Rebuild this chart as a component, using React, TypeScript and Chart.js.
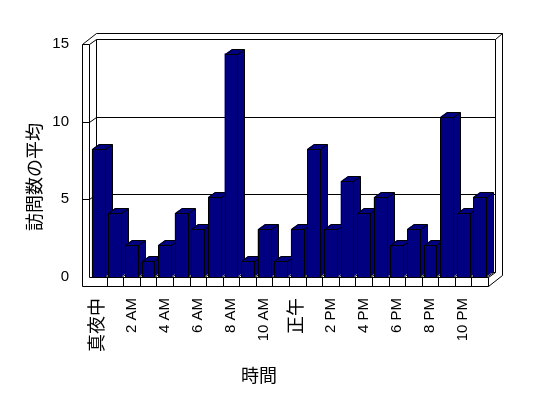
import React, { useEffect, useRef } from "react";
import { Chart, registerables } from "chart.js";

Chart.register(...registerables);

// ---- data ----
const hourLabels = [
  "真夜中", "1 AM", "2 AM", "3 AM", "4 AM", "5 AM", "6 AM", "7 AM", "8 AM", "9 AM", "10 AM", "11 AM",
  "正午", "1 PM", "2 PM", "3 PM", "4 PM", "5 PM", "6 PM", "7 PM", "8 PM", "9 PM", "10 PM", "11 PM",
];
const avgVisits = [8, 4, 2, 1, 2, 4, 3, 5, 14, 1, 3, 1, 3, 8, 3, 6, 4, 5, 2, 3, 2, 10, 4, 5];
const yTickValues = [0, 5, 10, 15];
const xTitle = "時間";
const yTitle = "訪問数の平均";

// ---- style / layout ----
const NAVY = "#000080";
const LATIN = "'Liberation Sans', 'Noto Sans CJK JP', sans-serif";
const CJK = "'Noto Sans CJK JP', sans-serif";
const Y_MAX = 15;
const BAR_AXIS_MAX = 14.6; // front (perspective) scale of the bars
const DX = 7, DY = -5; // depth of plot
const WX = 6.5, WY = -6; // back wall thickness
const SIDE_WALL = 7;
const FLOOR_H = 9;

const px = (v: number) => Math.round(v) + 0.5;

function line(ctx: CanvasRenderingContext2D, pts: number[][]) {
  ctx.beginPath();
  pts.forEach((p, i) => (i ? ctx.lineTo(px(p[0]), px(p[1])) : ctx.moveTo(px(p[0]), px(p[1]))));
  ctx.stroke();
}

function barRect(el: any) {
  const p = el.getProps(["x", "y", "base", "width"], true);
  return {
    l: Math.round(p.x - p.width / 2),
    r: Math.round(p.x + p.width / 2),
    t: Math.round(p.y),
    b: Math.round(p.base),
  };
}

const box3d = {
  id: "box3d",
  beforeDatasetsDraw(chart: any) {
    const { ctx, chartArea: a, scales } = chart;
    const y = scales.y;
    const L1 = a.left - 1, L0 = L1 - SIDE_WALL, T = a.top, B0 = a.bottom, B1 = B0 + FLOOR_H, R = a.right;
    const DXX = DX + WX, DYY = DY + WY;
    ctx.save();
    ctx.strokeStyle = "#000";
    ctx.lineWidth = 1;
    // back wall inner face
    line(ctx, [[L1 + DX, T + DY], [R + DX, T + DY], [R + DX, B0 + DY], [L1 + DX, B0 + DY], [L1 + DX, T + DY]]);
    // gridlines on the back wall + left wall
    yTickValues.forEach((v) => {
      if (v === 0 || v === Y_MAX) return;
      const yy = y.getPixelForValue(v);
      line(ctx, [[L1 + DX, yy + DY], [R + DX, yy + DY]]);
      line(ctx, [[L0, yy], [L1, yy], [L1 + DX, yy + DY]]);
    });
    // outer top and right edges
    line(ctx, [[L0, T], [L0 + DXX, T + DYY], [R + DXX, T + DYY], [R + DXX, B1 + DYY]]);
    line(ctx, [[R + DX, T + DY], [R + DXX, T + DYY]]);
    line(ctx, [[L1, T], [L1 + DX, T + DY]]);
    // front face of left wall + floor
    line(ctx, [[L0, T], [L1, T], [L1, B0], [R, B0], [R, B1], [L0, B1], [L0, T]]);
    // floor dividers
    const n = hourLabels.length;
    const cw = (a.right - a.left) / n;
    for (let i = 1; i < n; i++) {
      const x = a.left + i * cw;
      line(ctx, [[x, B0], [x, B1]]);
    }
    line(ctx, [[R, B0], [R + DX, B0 + DY]]);
    line(ctx, [[R, B1], [R + DXX, B1 + DYY]]);
    // bar extrusions (top and side faces)
    const meta = chart.getDatasetMeta(0);
    ctx.fillStyle = NAVY;
    meta.data.forEach((el: any) => {
      const { l, r, t, b } = barRect(el);
      ctx.beginPath();
      ctx.moveTo(l, t);
      ctx.lineTo(l + DX, t + DY);
      ctx.lineTo(r + DX, t + DY);
      ctx.lineTo(r + DX, b + DY);
      ctx.lineTo(r, b);
      ctx.lineTo(r, t);
      ctx.closePath();
      ctx.fill();
      line(ctx, [[l, t], [l + DX, t + DY], [r + DX, t + DY], [r + DX, b + DY], [r, b]]);
      line(ctx, [[r, t], [r + DX, t + DY]]);
    });
    ctx.restore();
  },
  afterDatasetsDraw(chart: any) {
    const { ctx } = chart;
    ctx.save();
    ctx.strokeStyle = "#000";
    ctx.lineWidth = 1;
    chart.getDatasetMeta(0).data.forEach((el: any) => {
      const { l, r, t, b } = barRect(el);
      ctx.fillStyle = NAVY;
      ctx.fillRect(l, t, r - l, b - t);
      ctx.strokeRect(l + 0.5, t + 0.5, r - l, b - t);
    });
    ctx.restore();
  },
  afterDraw(chart: any) {
    const { ctx } = chart;
    ctx.save();
    ctx.fillStyle = "#000";
    ctx.font = `18px ${CJK}`;
    ctx.textAlign = "center";
    ctx.textBaseline = "middle";
    ctx.fillText(xTitle, 259, 375);
    ctx.translate(34, 177);
    ctx.rotate(-Math.PI / 2);
    ctx.fillText(yTitle, 0, 0);
    ctx.restore();
  },
};

export default function App() {
  const ref = useRef<HTMLCanvasElement | null>(null);
  useEffect(() => {
    document.body.style.margin = "0";
    const canvas = ref.current;
    if (!canvas) return;
    const chart = new Chart(canvas, {
      type: "bar",
      data: {
        labels: hourLabels,
        datasets: [
          {
            data: avgVisits,
            yAxisID: "yBar",
            backgroundColor: NAVY,
            borderWidth: 0,
            barPercentage: 0.77,
            categoryPercentage: 1,
          },
        ],
      },
      plugins: [box3d],
      options: {
        responsive: false,
        animation: false,
        devicePixelRatio: 1,
        layout: { padding: { top: 44, right: 60, bottom: 0, left: 0 } },
        plugins: { legend: { display: false }, tooltip: { enabled: false } },
        scales: {
          x: {
            grid: { display: false, drawTicks: false },
            border: { display: false },
            afterFit: (s: any) => { s.height = 121; },
            ticks: {
              autoSkip: false,
              minRotation: 90,
              maxRotation: 90,
              padding: 21,
              color: "#000",
              font: (c: any) => ({ family: LATIN, size: c.index % 12 === 0 ? 18 : 15 }),
              callback: (_v: any, i: number) => (i % 2 === 0 ? hourLabels[i] : ""),
            },
          },
          y: {
            position: "left",
            min: 0,
            max: Y_MAX,
            grid: { display: false, drawTicks: false },
            border: { display: false },
            afterFit: (s: any) => { s.width = 90; },
            afterBuildTicks: (s: any) => { s.ticks = yTickValues.map((v) => ({ value: v })); },
            ticks: { padding: 21, color: "#000", font: { family: LATIN, size: 15 } },
          },
          yBar: {
            display: false,
            min: 0,
            max: BAR_AXIS_MAX,
          },
        },
      },
    });
    return () => chart.destroy();
  }, []);
  return (
    <div style={{ width: 548, height: 398 }}>
      <canvas ref={ref} width={548} height={398} />
    </div>
  );
}
